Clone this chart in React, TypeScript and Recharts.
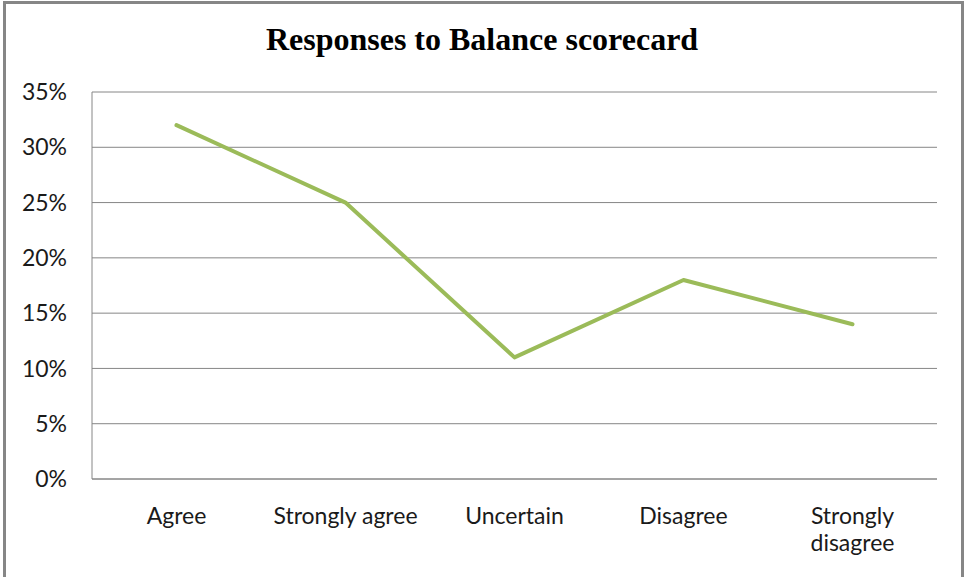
import React from "react";
import { CartesianGrid, Line, LineChart, XAxis, YAxis } from "recharts";

const categories = ["Agree", "Strongly agree", "Uncertain", "Disagree", "Strongly disagree"];
const responses = [32, 25, 11, 18, 14];
const yTicks = [0, 5, 10, 15, 20, 25, 30, 35];

const chartData = categories.map((name, i) => ({ name, value: responses[i] }));

const GRID = "#868686";
const LABEL_FONT = "Lato, 'Open Sans', sans-serif";

// long category names wrap onto two lines like the original
const CategoryTick = ({ x, y, payload }: any) => {
  const label: string = payload.value;
  const lines = label.length > 15 ? label.split(" ") : [label];
  return (
    <text x={x} y={y} textAnchor="middle" fill="#1a1a1a" fontSize={23} fontFamily={LABEL_FONT}>
      {lines.map((line, i) => (
        <tspan key={i} x={x} dy={i === 0 ? 21 : 27}>
          {line}
        </tspan>
      ))}
    </text>
  );
};

export default function App() {
  return (
    <div style={{ position: "absolute", left: 0, top: 0, width: 964, height: 577, overflow: "hidden", background: "#fff" }}>
      <div
        style={{
          position: "absolute",
          left: 3,
          top: 1,
          width: 955,
          height: 590,
          border: "3px solid #868686",
        }}
      />
      <div
        style={{
          position: "absolute",
          left: 0,
          width: 964,
          top: 21,
          textAlign: "center",
          fontFamily: "'Liberation Serif', 'Times New Roman', serif",
          fontWeight: "bold",
          fontSize: 32,
          color: "#000",
        }}
      >
        Responses to Balance scorecard
      </div>
      <div style={{ position: "absolute", left: 0, top: 0 }}>
        <LineChart width={964} height={577} data={chartData} margin={{ top: 92, right: 27, bottom: 0, left: 0 }}>
          <CartesianGrid vertical={false} stroke={GRID} strokeWidth={1} />
          <XAxis
            dataKey="name"
            scale="band"
            height={98}
            axisLine={{ stroke: GRID }}
            tickLine={false}
            tickSize={0}
            tickMargin={24}
            interval={0}
            tick={<CategoryTick />}
          />
          <YAxis
            width={92}
            domain={[0, 35]}
            ticks={yTicks}
            interval={0}
            axisLine={{ stroke: GRID }}
            tickLine={false}
            tickSize={0}
            tickMargin={25}
            tickFormatter={(v: number) => `${v}%`}
            tick={{ fill: "#1a1a1a", fontSize: 23, fontFamily: LABEL_FONT }}
          />
          <Line
            type="linear"
            dataKey="value"
            stroke="#9BBB59"
            strokeWidth={4}
            strokeLinecap="round"
            strokeLinejoin="round"
            dot={false}
            isAnimationActive={false}
          />
        </LineChart>
      </div>
    </div>
  );
}
